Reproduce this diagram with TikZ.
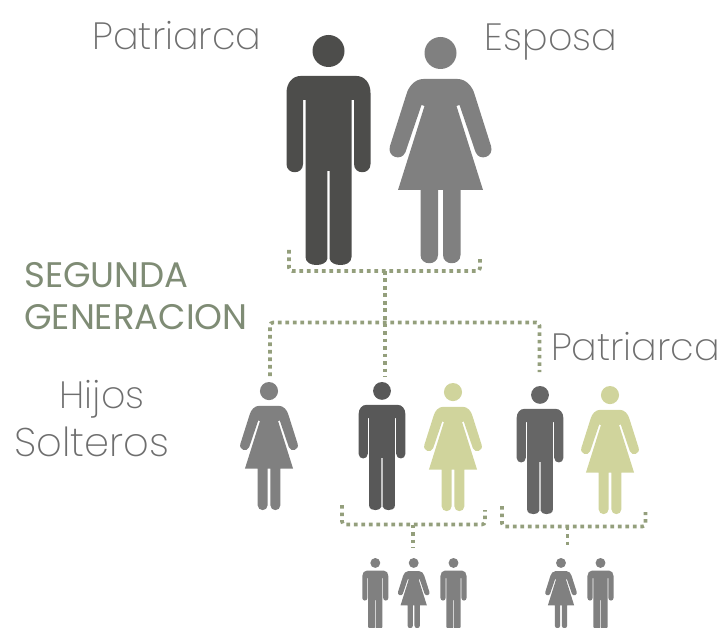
\documentclass[tikz,border=0pt]{standalone}
\usepackage{fontspec}
\setmainfont{Poppins}
\newfontfamily\thinfont[UprightFont=* ExtraLight]{Poppins}
\definecolor{darkfig}{HTML}{4D4D4B}
\definecolor{midfig}{HTML}{585858}
\definecolor{softfig}{HTML}{666666}
\definecolor{greyfig}{HTML}{808080}
\definecolor{palefig}{HTML}{D0D49C}
\definecolor{linkgreen}{HTML}{949F7C}
\definecolor{headgreen}{HTML}{7F8C75}
\definecolor{labelgrey}{HTML}{6E6E6E}
\tikzset{
  hombre/.pic={
    \fill (0,16) circle (16);
    \fill (-42,58) .. controls (-42,48) and (-36,41) .. (-28,41) -- (28,41)
      .. controls (36,41) and (42,48) .. (42,58) -- (42,129)
      .. controls (42,140) and (25.5,140) .. (25.5,129) -- (25.5,65) -- (23,65)
      -- (23,222) .. controls (23,228) and (17,230) .. (12,230)
      .. controls (7,230) and (2,228) .. (1.2,224) -- (1.2,136) -- (-1.2,136)
      -- (-1.2,224) .. controls (-2,228) and (-7,230) .. (-12,230)
      .. controls (-17,230) and (-23,228) .. (-23,222)
      -- (-23,65) -- (-25.5,65) -- (-25.5,129)
      .. controls (-25.5,140) and (-42,140) .. (-42,129) -- cycle;
  },
  mujer/.pic={
    \fill (0,16) circle (16);
    \fill (-17,42) -- (17,42) .. controls (26,42) and (32,50) .. (34,57)
      -- (50.5,109) .. controls (54,120) and (39,125) .. (35,115)
      -- (19,68) -- (16,69) -- (42.5,153) -- (20,153) -- (20,218)
      .. controls (20,229) and (2.5,229) .. (2.5,218) -- (2.5,153) -- (-2.5,153)
      -- (-2.5,218) .. controls (-2.5,229) and (-20,229) .. (-20,218) -- (-20,153)
      -- (-42.5,153) -- (-16,69) -- (-19,68) -- (-35,115)
      .. controls (-39,125) and (-54,120) .. (-50.5,109) -- (-34,57)
      .. controls (-32,50) and (-26,42) .. (-17,42) -- cycle;
  },
  enlace/.style={linkgreen,line width=3.6pt,dash pattern=on 3.6pt off 3.9pt,rounded corners=3pt},
  rotulo/.style={labelgrey,font=\thinfont\fontsize{38}{38}\selectfont,anchor=base,inner sep=0pt},
  titulo/.style={headgreen,font=\fontsize{35.5}{35.5}\selectfont,anchor=base west,inner sep=0pt}
}
\begin{document}
\begin{tikzpicture}[x=1pt,y=-1pt]
        % background
        \useasboundingbox (0,0) rectangle (720,628);
        % figures
        \foreach \px/\py/\sc/\col/\kind in {
            328.5/35/1/darkfig/hombre, 440.5/37/1/greyfig/mujer,
            269/382/.566/greyfig/mujer, 382/382/.557/midfig/hombre, 453/383/.566/palefig/mujer,
            540/386/.557/softfig/hombre, 610/386/.566/palefig/mujer,
            375.3/558/.31/greyfig/hombre, 413.7/558/.31/greyfig/mujer, 453.5/558/.31/greyfig/hombre,
            561/558/.31/greyfig/mujer, 600.5/558/.31/greyfig/hombre}
          \pic[\col,xscale=\sc,yscale=\sc] at (\px,\py) {\kind};
        % connectors
        \coordinate (padresL) at (289,250);
        \coordinate (padresM) at (385,271);
        \coordinate (padresR) at (480,258);
        \coordinate (barraM) at (385,322.5);
        \coordinate (hijaA) at (270,376);
        \coordinate (hijoB) at (385,377);
        \coordinate (hijoC) at (539.5,372);
        \coordinate (parejaAL) at (342,505);
        \coordinate (parejaAM) at (413,524.5);
        \coordinate (parejaAR) at (485,510);
        \coordinate (nietosA) at (413,548);
        \coordinate (parejaBL) at (502,506);
        \coordinate (parejaBM) at (567.5,526.5);
        \coordinate (parejaBR) at (645.5,512);
        \coordinate (nietosB) at (567.5,546);
        \draw[enlace] (padresL) |- (padresM) -| (padresR);
        \draw[enlace] (padresM) -- (hijoB);
        \draw[enlace] (hijaA) |- (barraM) -| (hijoC);
        \draw[enlace] (parejaAL) |- (parejaAM) -| (parejaAR);
        \draw[enlace] (parejaAM) -- (nietosA);
        \draw[enlace] (parejaBL) |- (parejaBM) -| (parejaBR);
        \draw[enlace] (parejaBM) -- (nietosB);
        % labels
        \node[rotulo] (patriarca) at (177,50) {Patriarca};
        \node[rotulo] (esposa) at (551,51) {Esposa};
        \node[rotulo] (patriarcaB) at (635.5,360) {Patriarca};
        \node[rotulo] (hijos) at (102,408) {Hijos};
        \node[rotulo,font=\thinfont\fontsize{40}{40}\selectfont] (solteros) at (91.5,456) {Solteros};
        \node[titulo] (segunda) at (24,288) {SEGUNDA};
        \node[titulo] (generacion) at (24,329) {GENERACION};
      \end{tikzpicture}
\end{document}
